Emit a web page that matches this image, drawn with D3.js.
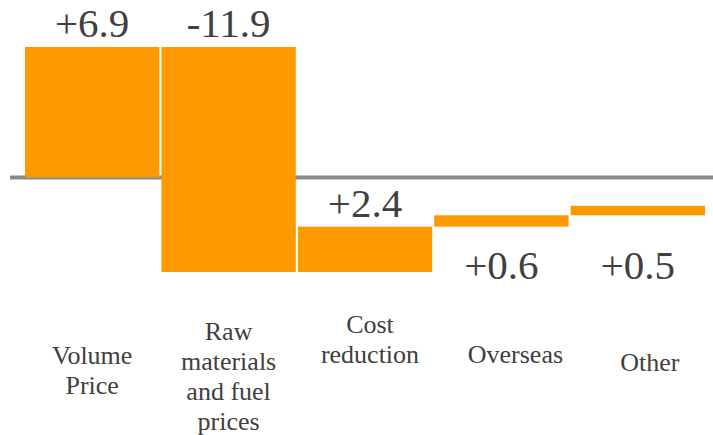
<!DOCTYPE html>
<html>
<head>
<meta charset="utf-8">
<script src="https://cdn.jsdelivr.net/npm/d3@7"></script>
</head>
<body style="margin:0">
<script>
// waterfall data
var categories = ["Volume Price", "Raw materials and fuel prices", "Cost reduction", "Overseas", "Other"];
var labelLines = [["Volume", "Price"], ["Raw", "materials", "and fuel", "prices"], ["Cost", "reduction"], ["Overseas"], ["Other"]];
var changes = [6.9, -11.9, 2.4, 0.6, 0.5];
var changeLabels = ["+6.9", "-11.9", "+2.4", "+0.6", "+0.5"];

// layout only (not data)
var catLabelY = [364, 340, 333, 363, 371];
var catLabelDx = [0, 0, 5, 14, 12];

var width = 713, height = 435;

var svg = d3.select("body").append("svg")
    .attr("width", width)
    .attr("height", height)
    .style("display", "block");

// running totals
var steps = [];
var run = 0;
for (var i = 0; i < changes.length; i++) {
    var start = run;
    run += changes[i];
    steps.push({ cat: categories[i], start: start, end: run, value: changes[i], label: changeLabels[i], lines: labelLines[i], idx: i });
}

var minCum = d3.min(steps, function(d) { return Math.min(d.start, d.end); });
var maxCum = d3.max(steps, function(d) { return Math.max(d.start, d.end); });

var x = d3.scaleBand()
    .domain(categories)
    .range([25, 705])
    .paddingInner(0.015)
    .paddingOuter(0);

var y = d3.scaleLinear()
    .domain([minCum, maxCum])
    .range([272, 47]);

// zero line
svg.append("line")
    .attr("x1", 10)
    .attr("x2", width)
    .attr("y1", y(0))
    .attr("y2", y(0))
    .attr("stroke", "#8a8a8a")
    .attr("stroke-width", 4);

svg.selectAll("rect")
    .data(steps)
  .enter().append("rect")
    .attr("x", function(d) { return x(d.cat); })
    .attr("width", x.bandwidth())
    .attr("y", function(d) { return y(Math.max(d.start, d.end)); })
    .attr("height", function(d) { return Math.abs(y(d.start) - y(d.end)); })
    .attr("fill", "#ff9900");

// value labels: above the bar, small steps go under the lowest level
svg.append("g").selectAll("text")
    .data(steps)
  .enter().append("text")
    .attr("x", function(d) { return x(d.cat) + x.bandwidth() / 2; })
    .attr("y", function(d) {
        if (Math.abs(d.value) < 1) return y(minCum) + 7;
        return y(Math.max(d.start, d.end)) - 10;
    })
    .attr("text-anchor", "middle")
    .style("font-family", "'Liberation Serif'")
    .style("font-size", "41px")
    .style("fill", "#404040")
    .text(function(d) { return d.label; });

// category labels, one text per line
steps.forEach(function(d) {
    var cx = x(d.cat) + x.bandwidth() / 2 + catLabelDx[d.idx];
    d.lines.forEach(function(t, j) {
        svg.append("text")
            .attr("x", cx)
            .attr("y", catLabelY[d.idx] + j * 30)
            .attr("text-anchor", "middle")
            .style("font-family", "'Liberation Serif'")
            .style("font-size", "26px")
            .style("fill", "#404040")
            .text(t);
    });
});
</script>
</body>
</html>
